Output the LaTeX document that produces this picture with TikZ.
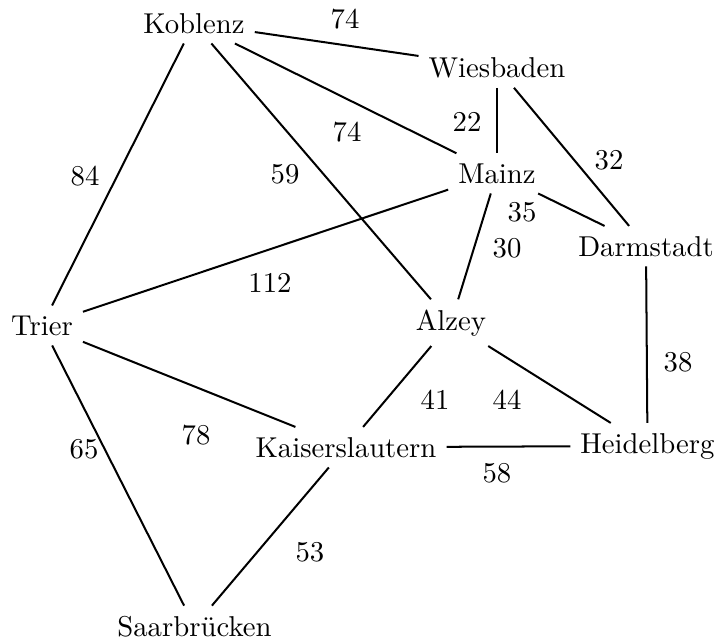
\documentclass[tikz,border=0pt]{standalone}
\begin{document}
\begin{tikzpicture}[x=0.3482pt, y=-0.3482pt,
  city/.style={anchor=base, inner sep=3.333pt},
  dist/.style={anchor=center},
  road/.style={line width=0.7pt}]
\useasboundingbox (0,0) rectangle (718,641);

% cities
\node[city] (kob) at (194,33)    {Koblenz};
\node[city] (wie) at (497,77)    {Wiesbaden};
\node[city] (mai) at (497,183)   {Mainz};
\node[city] (dar) at (646,256)   {Darmstadt};
\node[city] (tri) at (42,335)    {Trier};
\node[city] (alz) at (451,330)   {Alzey};
\node[city] (kai) at (346,457)   {Kaiserslautern};
\node[city] (hei) at (647.5,453) {Heidelberg};
\node[city] (saa) at (194.5,636) {Saarbrücken};

% roads
\draw[road] (kob) -- (wie);
\draw[road] (kob) -- (mai);
\draw[road] (kob) -- (alz);
\draw[road] (kob) -- (tri);
\draw[road] (wie) -- (mai);
\draw[road] (wie) -- (dar);
\draw[road] (mai) -- (dar);
\draw[road] (mai) -- (alz);
\draw[road] (mai) -- (tri);
\draw[road] (dar) -- (hei);
\draw[road] (alz) -- (kai);
\draw[road] (alz) -- (hei);
\draw[road] (tri) -- (kai);
\draw[road] (tri) -- (saa);
\draw[road] (kai) -- (hei);
\draw[road] (kai) -- (saa);

% distances
\node[dist] (d1)  at (345,19.5) {74};
\node[dist] (d2)  at (467,122)  {22};
\node[dist] (d3)  at (609,160)  {32};
\node[dist] (d4)  at (347,132)  {74};
\node[dist] (d5)  at (285,174)  {59};
\node[dist] (d6)  at (85,176)   {84};
\node[dist] (d7)  at (522,212)  {35};
\node[dist] (d8)  at (507,248)  {30};
\node[dist] (d9)  at (270,283)  {112};
\node[dist] (d10) at (678,362)  {38};
\node[dist] (d11) at (435,400)  {41};
\node[dist] (d12) at (507,400)  {44};
\node[dist] (d13) at (196,435)  {78};
\node[dist] (d14) at (84,449)   {65};
\node[dist] (d15) at (497,473)  {58};
\node[dist] (d16) at (310,552)  {53};
\end{tikzpicture}
\end{document}
